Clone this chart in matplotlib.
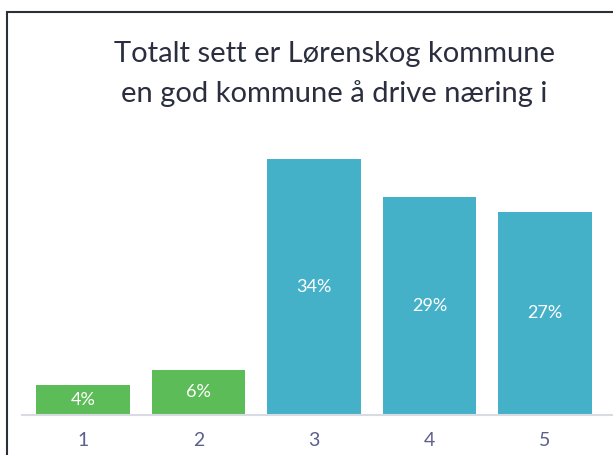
import matplotlib
matplotlib.use("Agg")
import matplotlib.pyplot as plt
from matplotlib.patches import Rectangle

categories = ["1", "2", "3", "4", "5"]
values = [4, 6, 34, 29, 27]
bar_colors = ["#5cbd58", "#5cbd58", "#45b1c9", "#45b1c9", "#45b1c9"]
title = "Totalt sett er Lørenskog kommune\nen god kommune å drive næring i"

plt.rcParams['font.family'] = ['Lato', 'DejaVu Sans']

fig = plt.figure(figsize=(6.13, 4.55), dpi=100)
W, H = 613, 455

# frame around the chart (runs off right and bottom edge)
fig.patches.append(Rectangle((7 / W, -0.1), 1.0, (H - 12) / H + 0.1,
                             transform=fig.transFigure, fill=False,
                             edgecolor="#2b2f3a", linewidth=1.5))

ax = fig.add_axes([22 / W, (H - 415) / H, 1 - 22 / W, 301 / H])
x = list(range(1, len(values) + 1))
bars = ax.bar(x, values, width=0.81, color=bar_colors, edgecolor="none")

for b, v in zip(bars, values):
    ax.text(b.get_x() + b.get_width() / 2, v / 2, f"{v}%", ha="center",
            va="center", color="white", fontsize=13)

ax.set_xlim(0.472, 5.59)
ax.set_ylim(0, 40)
ax.set_xticks(x)
ax.set_xticklabels(categories, fontsize=14, color="#5b608c")
ax.tick_params(axis="x", length=0, pad=12)
ax.set_yticks([])
for s in ["top", "right", "left"]:
    ax.spines[s].set_visible(False)
ax.spines["bottom"].set_color("#d9dbe3")
ax.spines["bottom"].set_linewidth(1.5)

fig.text(334 / W, 1 - 74 / H, title, ha="center", va="center",
         fontsize=21, color="#2a2e3f", linespacing=1.6)

fig.savefig("out.png", dpi=100)
